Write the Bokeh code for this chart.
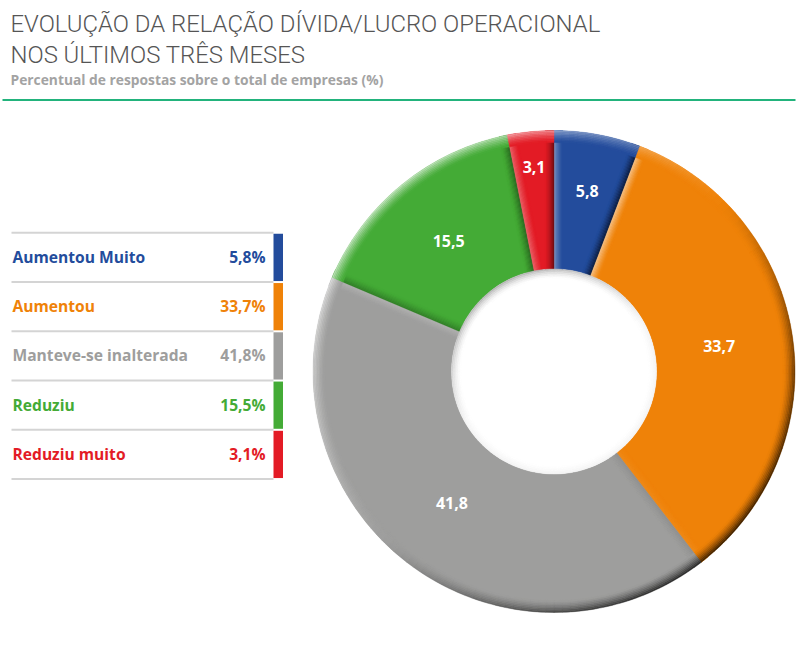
import math
import numpy as np
from bokeh.plotting import figure
from bokeh.models import Range1d, ColumnDataSource
from bokeh.core.properties import value
from bokeh.embed import file_html
from bokeh.resources import INLINE

# ---------------- data ----------------
categories = ["Aumentou Muito", "Aumentou", "Manteve-se inalterada", "Reduziu", "Reduziu muito"]
values = [5.8, 33.7, 41.8, 15.5, 3.1]
colors = ["#234c9c", "#ef8208", "#9e9e9d", "#44ab36", "#e31b25"]
title_lines = ["EVOLUÇÃO DA RELAÇÃO DÍVIDA/LUCRO OPERACIONAL", "NOS ÚLTIMOS TRÊS MESES"]
subtitle = "Percentual de respostas sobre o total de empresas (%)"

def fmt(v):
    return f"{v:.1f}".replace(".", ",")

# ---------------- layout helpers (screen px -> figure coords) ----------------
W, H = 800, 647
TXT_DY = 7.0   # text baseline correction
def fx(x):
    return x
def fy(y):
    return H - y
def ty(y):
    return H - (y - TXT_DY)

p = figure(width=W, height=H, x_range=Range1d(0, W), y_range=Range1d(0, H),
           output_backend="svg", toolbar_location=None,
           x_axis_location=None, y_axis_location=None, min_border=0)
p.grid.visible = False
p.outline_line_color = None
p.background_fill_color = "white"
p.border_fill_color = "white"

TITLE_FONT = value("Roboto Light, Roboto, sans-serif")
BODY_FONT = value("Open Sans")

# ---------------- header ----------------
p.text(x=[fx(10), fx(10)], y=[ty(30.7), ty(61)], text=title_lines,
       text_font=TITLE_FONT, text_font_size="23.9px", text_color="#555555",
       text_baseline="alphabetic", text_align="left")
p.text(x=[fx(10)], y=[ty(86)], text=[subtitle], text_font=BODY_FONT,
       text_font_style="bold", text_font_size="13.8px", text_color="#a3a3a3",
       text_baseline="alphabetic", text_align="left")
p.segment(x0=[fx(2)], y0=[fy(99.5)], x1=[fx(795)], y1=[fy(99.5)],
          line_color="#22b37c", line_width=2)

# ---------------- legend table ----------------
n = len(categories)
ROW0, ROWH = 232.3, 49.25
line_y = [fy(ROW0 + ROWH * k) for k in range(n + 1)]
p.segment(x0=[fx(11)] * (n + 1), x1=[fx(273)] * (n + 1), y0=line_y, y1=line_y,
          line_color="#d4d4d4", line_width=2)
p.quad(left=[fx(273)] * n, right=[fx(282.5)] * n,
       top=[fy(ROW0 + ROWH * k + 1) for k in range(n)],
       bottom=[fy(ROW0 + ROWH * (k + 1) - 1) for k in range(n)],
       fill_color=colors, line_color=None)
base_y = [ty(ROW0 + ROWH * k + 31) for k in range(n)]
p.text(x=[fx(12)] * n, y=base_y, text=categories, text_color=colors,
       text_font=BODY_FONT, text_font_style="bold", text_font_size="15.6px",
       text_baseline="alphabetic", text_align="left")
p.text(x=[fx(265)] * n, y=base_y, text=[fmt(v) + "%" for v in values], text_color=colors,
       text_font=BODY_FONT, text_font_style="bold", text_font_size="15.6px",
       text_baseline="alphabetic", text_align="right")

# ---------------- donut ----------------
cx, cy = fx(553.5), fy(371)
R_OUT, R_IN = 241.0, 102.5
fr = np.array(values) / sum(values)
cum = np.concatenate([[0.0], np.cumsum(fr)]) * 2 * math.pi
a0, a1 = cum[:-1], cum[1:]          # clockwise from 12 o'clock

p.annular_wedge(x=cx, y=cy, inner_radius=R_IN, outer_radius=R_OUT,
                start_angle=list(math.pi / 2 - a1), end_angle=list(math.pi / 2 - a0),
                fill_color=colors, line_color=None)

def hex2rgb(h):
    h = h.lstrip("#")
    return [int(h[i:i + 2], 16) for i in (0, 2, 4)]

def blend(h, target, t):
    c = hex2rgb(h)
    t = max(0.0, min(1.0, t))
    return "#%02x%02x%02x" % tuple(int(round(c[i] + (target[i] - c[i]) * t)) for i in range(3))

def shade(h, L, t, kl=0.7, kd=0.8):
    if L >= 0:
        return blend(h, (255, 255, 255), kl * L * t)
    return blend(h, (0, 0, 0), kd * (-L) * t)

def light(nx, ny):
    return (-nx + ny) / math.sqrt(2)

# radial edge bevels
NB_R, BW_R = 8, 9.0
pxs, pys, pcs = [], [], []
for i in range(n):
    for a, sign in ((a0[i], -1), (a1[i], 1)):
        ux, uy = math.sin(a), math.cos(a)
        nx, ny = sign * math.cos(a), -sign * math.sin(a)   # outward normal of slice edge
        L = light(nx, ny)
        for j in range(NB_R):
            d0, d1 = BW_R * j / NB_R, BW_R * (j + 1) / NB_R
            t = (1 - (j + 0.5) / NB_R) ** 1.3
            xs, ys = [], []
            for d, r_list in ((d0, (R_IN, R_OUT)), (d1, (R_OUT, R_IN))):
                for R in r_list:
                    s = math.sqrt(max(R * R - d * d, 0))
                    xs.append(cx + s * ux - d * nx)
                    ys.append(cy + s * uy - d * ny)
            pxs.append(xs); pys.append(ys); pcs.append(shade(colors[i], L, t, 0.6, 0.75))
p.patches(xs=pxs, ys=pys, fill_color=pcs, line_color=pcs, line_width=0.4)

# outer rim bevel
NB, BW = 8, 12.0
rim = dict(s=[], e=[], ri=[], ro=[], c=[])
step = math.radians(2)
for i in range(n):
    nseg = max(2, int(math.ceil((a1[i] - a0[i]) / step)))
    ed = np.linspace(a0[i], a1[i], nseg + 1)
    for k in range(nseg):
        am = (ed[k] + ed[k + 1]) / 2
        phi = math.pi / 2 - am
        L = light(math.cos(phi), math.sin(phi))
        for j in range(NB):
            t = (1 - (j + 0.5) / NB) ** 1.4
            rim["s"].append(math.pi / 2 - ed[k + 1])
            rim["e"].append(math.pi / 2 - ed[k])
            rim["ri"].append(R_OUT - BW * (j + 1) / NB)
            rim["ro"].append(R_OUT - BW * j / NB)
            rim["c"].append(shade(colors[i], L, t, 0.7, 0.8))
src_rim = ColumnDataSource(rim)
p.annular_wedge(x=cx, y=cy, inner_radius="ri", outer_radius="ro", start_angle="s",
                end_angle="e", fill_color="c", line_color="c", line_width=0.4, source=src_rim)

# shadow inside the hole
NH, HW = 6, 10.0
hole = dict(s=[], e=[], ri=[], ro=[], c=[])
segs = np.linspace(0, 2 * math.pi, 181)
for k in range(180):
    phi = (segs[k] + segs[k + 1]) / 2
    sfac = 0.15 + 0.85 * max(0.0, math.cos(phi - math.radians(120)))
    for j in range(NH):
        t = (1 - (j + 0.5) / NH) ** 1.6
        hole["s"].append(segs[k]); hole["e"].append(segs[k + 1])
        hole["ri"].append(R_IN - HW * (j + 1) / NH)
        hole["ro"].append(R_IN - HW * j / NH)
        hole["c"].append(blend("#ffffff", (0, 0, 0), 0.32 * sfac * t))
src_hole = ColumnDataSource(hole)
p.annular_wedge(x=cx, y=cy, inner_radius="ri", outer_radius="ro", start_angle="s",
                end_angle="e", fill_color="c", line_color="c", line_width=0.4, source=src_hole)

# slice labels
mid = (a0 + a1) / 2
r_lab = [167 + max(0.0, 8 * (7.8 - v)) for v in values]
lx = [cx + r * math.sin(m) for r, m in zip(r_lab, mid)]
ly = [cy + r * math.cos(m) - 6 + TXT_DY for r, m in zip(r_lab, mid)]
p.text(x=lx, y=ly, text=[fmt(v) for v in values], text_color="white",
       text_font=BODY_FONT, text_font_style="bold", text_font_size="16px",
       text_align="center", text_baseline="alphabetic")

open("out.html", "w").write(file_html(p, INLINE))
